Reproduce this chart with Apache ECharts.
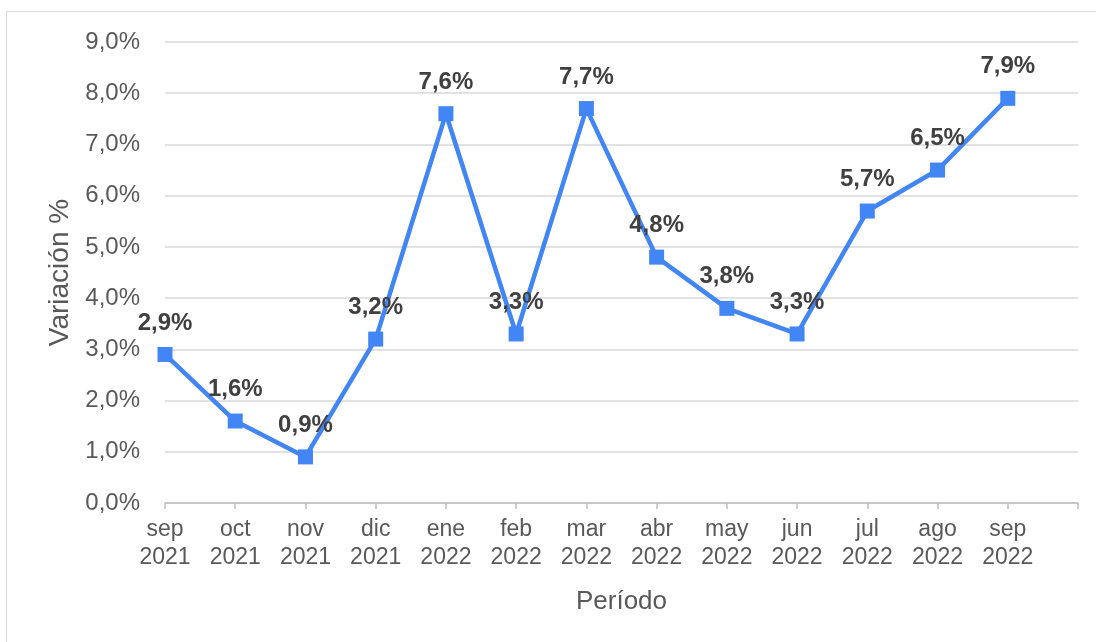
<!DOCTYPE html>
<html>
<head>
<meta charset="utf-8">
<script src="https://cdn.jsdelivr.net/npm/echarts@6/dist/echarts.min.js"></script>
<style>
  html, body { margin: 0; padding: 0; background: #fff; }
  #frame {
    position: absolute; left: 6px; top: 11px; width: 1100px; height: 640px;
    border: 1px solid #d9d9d9; box-sizing: border-box;
  }
  #chart { position: absolute; left: 0; top: 0; width: 1096px; height: 642px; }
</style>
</head>
<body>
<div id="frame"></div>
<div id="chart"></div>
<script>
// meses del periodo (dos líneas: mes / año)
const periodos = ['sep\n2021', 'oct\n2021', 'nov\n2021', 'dic\n2021', 'ene\n2022', 'feb\n2022',
  'mar\n2022', 'abr\n2022', 'may\n2022', 'jun\n2022', 'jul\n2022', 'ago\n2022', 'sep\n2022']
// variación % mensual
const variacion = [2.9, 1.6, 0.9, 3.2, 7.6, 3.3, 7.7, 4.8, 3.8, 3.3, 5.7, 6.5, 7.9]

const fmt = v => v.toFixed(1).replace('.', ',') + '%'
const font = '"Liberation Sans", Arial, sans-serif'

const chart = echarts.init(document.getElementById('chart'))
chart.setOption({
  animation: false,
  grid: { left: 165, right: 18, top: 42, bottom: 139 },
  xAxis: {
    type: 'category',
    data: periodos.concat(['']),
    boundaryGap: false,
    name: 'Período',
    nameLocation: 'middle',
    nameGap: 86,
    nameTextStyle: { color: '#595959', fontSize: 26, fontFamily: font },
    axisLine: { lineStyle: { color: '#bfbfbf', width: 1.5 } },
    axisTick: { show: true, length: 6, lineStyle: { color: '#bfbfbf', width: 1.5 } },
    axisLabel: { color: '#595959', fontSize: 23, fontFamily: font, lineHeight: 28, margin: 13, interval: 0 },
    splitLine: { show: false },
  },
  yAxis: {
    type: 'value',
    min: 0,
    max: 9,
    interval: 1,
    name: 'Variación %',
    nameLocation: 'middle',
    nameGap: 90,
    nameTextStyle: { color: '#595959', fontSize: 28, fontFamily: font },
    axisLine: { show: false },
    axisTick: { show: false },
    axisLabel: { color: '#595959', fontSize: 24, fontFamily: font, margin: 25, formatter: fmt },
    splitLine: { lineStyle: { color: '#d9d9d9', width: 1.5 } },
  },
  series: [
    {
      type: 'line',
      data: variacion,
      color: '#4285f4',
      lineStyle: { width: 4.5 },
      symbol: 'rect',
      symbolSize: 15,
      label: {
        show: true,
        position: 'top',
        distance: 12,
        color: '#404040',
        fontWeight: 'bold',
        fontSize: 24,
        fontFamily: font,
        formatter: p => fmt(p.value),
      },
    },
  ],
})
</script>
</body>
</html>
